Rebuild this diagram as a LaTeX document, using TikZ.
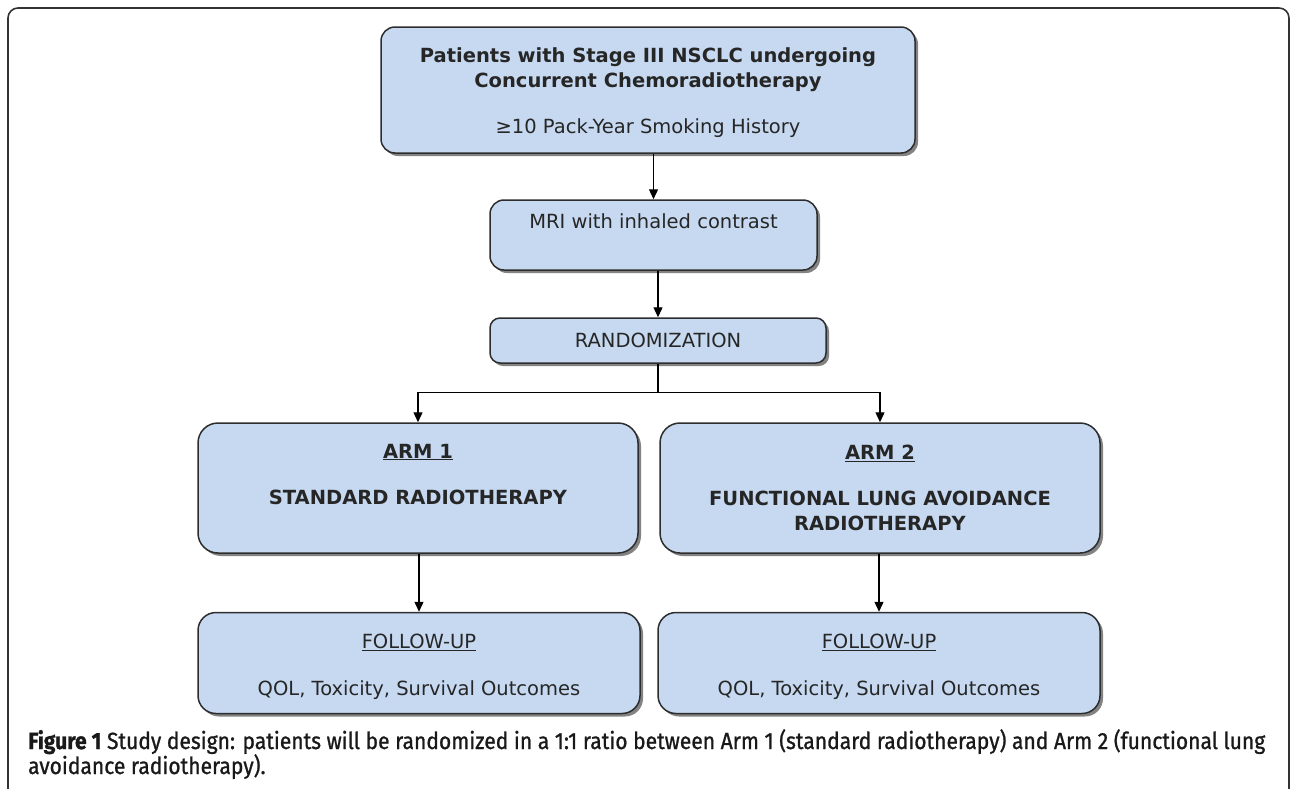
\documentclass[tikz,border=0pt]{standalone}
\usepackage{fontspec}
\setmainfont{DejaVu Sans}
\newfontfamily\capfont{Fira Sans}[FakeStretch=0.9,FakeBold=1]
\usetikzlibrary{arrows.meta,shadows,calc}
\definecolor{boxblue}{RGB}{198,217,241}
\definecolor{boxline}{RGB}{45,45,45}

\begin{document}
\begin{tikzpicture}[x=1pt,y=-1pt,font=\fontsize{19.5}{25}\selectfont]
\tikzstyle{block} = [rectangle, draw=boxline, line width=1.5pt, fill=boxblue,
text=black!85, align=center, inner sep=0pt, rounded corners=14pt,
drop shadow={shadow xshift=3pt,shadow yshift=-3pt,fill=black!75,opacity=0.65}]
\tikzstyle{line} = [draw=black, line width=1.3pt, -{Triangle[length=10pt,width=9pt]}];

\useasboundingbox (0,0) rectangle (1290,788);
% frame
\draw[line width=1.6pt, draw=black!80, rounded corners=10pt] (8,792) -- (8,8) -- (1289,8) -- (1289,792);

% row 1
\node [block, minimum width=534pt, minimum height=126pt] (patients) at (648,90)
{\rule{0pt}{21pt}\textbf{Patients with Stage III NSCLC undergoing}\\
\textbf{Concurrent Chemoradiotherapy}\\[21pt]
≥10 Pack-Year Smoking History};
% row 2
\node [block, minimum width=327pt, minimum height=70pt] (mri) at (653.5,235)
{MRI with inhaled contrast\rule[-27pt]{0pt}{0pt}};
% row 3
\node [block, minimum width=336pt, minimum height=45pt, rounded corners=10pt] (random) at (658,340.5)
{RANDOMIZATION};
\coordinate (split) at ($(random.south)+(0,29)$);
% row 4
\node [block, minimum width=440pt, minimum height=130pt, rounded corners=20pt] (arm1) at (418,488)
{\textbf{\underline{ARM 1}}\\[21pt]
\textbf{STANDARD RADIOTHERAPY}\rule[-28pt]{0pt}{0pt}};
\node [block, minimum width=440pt, minimum height=130pt, rounded corners=20pt] (arm2) at (880,488)
{\textbf{\underline{ARM 2}}\\[21pt]
\textbf{FUNCTIONAL LUNG AVOIDANCE}\\
\textbf{RADIOTHERAPY}};
% row 5
\node [block, minimum width=442pt, minimum height=101pt, rounded corners=18pt] (follow1) at (419,663)
{\rule{0pt}{22pt}\underline{FOLLOW-UP}\\[22pt]
QOL, Toxicity, Survival Outcomes};
\node [block, minimum width=442pt, minimum height=101pt, rounded corners=18pt] (follow2) at (879,663)
{\rule{0pt}{22pt}\underline{FOLLOW-UP}\\[22pt]
QOL, Toxicity, Survival Outcomes};

% caption
\node [anchor=base west, align=left, inner sep=0pt, text=black!90,
font=\capfont\fontsize{23.4}{25}\selectfont] (caption) at (28,774)
{\textbf{Figure 1} Study design: patients will be randomized in a 1:1 ratio between Arm 1 (standard radiotherapy) and Arm 2 (functional lung\\
avoidance radiotherapy).};

\path [line] (mri.north |- patients.south) -- (mri.north);
\path [line] (random.north |- mri.south) -- (random.north);
\path [draw=black, line width=1.3pt] (random.south) -- (split);
\path [line] (split) -| (arm1.north);
\path [line] (split) -| (arm2.north);
\path [line] (follow1.north |- arm1.south) -- (follow1.north);
\path [line] (follow2.north |- arm2.south) -- (follow2.north);

\end{tikzpicture}
\end{document}
